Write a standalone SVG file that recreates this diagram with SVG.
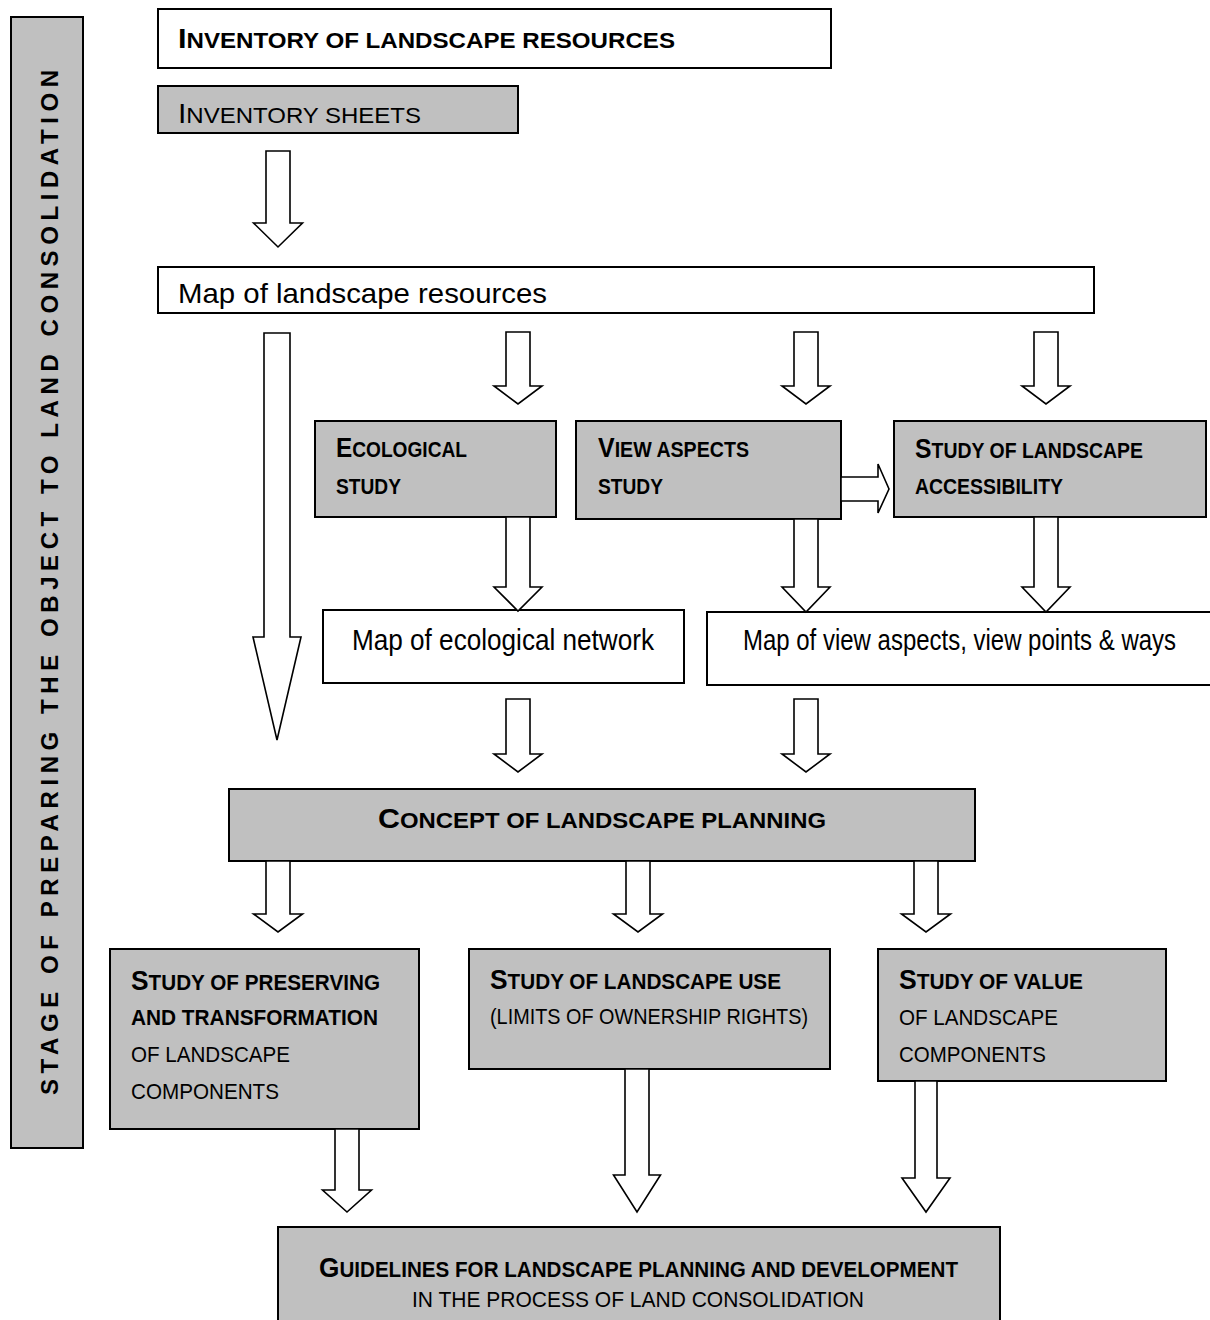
<svg xmlns="http://www.w3.org/2000/svg" width="1210" height="1320" viewBox="0 0 1210 1320">
<style>
.bw{fill:#ffffff;stroke:#000;stroke-width:2}
.bg{fill:#c0c0c0;stroke:#000;stroke-width:2}
.ar{fill:#ffffff;stroke:#000;stroke-width:1.6;stroke-linejoin:miter}
.t{font-family:"Liberation Sans Narrow","Liberation Sans",Arial,sans-serif;fill:#000}
.b{font-weight:bold}
.L{font-size:28px}
.S{font-size:22px}
.R{font-size:22.5px}
.v{font-family:"Liberation Sans",Arial,sans-serif;font-weight:bold;font-size:24px;fill:#000}
</style>
<defs>
<clipPath id="clipMap"><rect x="158" y="267" width="936" height="45"/></clipPath>
</defs>
<rect width="1210" height="1320" fill="#ffffff"/>

<g id="stage">
<rect class="bg" x="11" y="17" width="72" height="1131"/>
<text class="v" transform="translate(58,1095) rotate(-90)" textLength="1025" lengthAdjust="spacing">STAGE OF PREPARING THE OBJECT TO LAND CONSOLIDATION</text>
</g>

<g id="inventory">
<rect class="bw" x="158" y="9" width="673" height="59"/>
<text class="t b" x="178" y="48" textLength="497" lengthAdjust="spacingAndGlyphs"><tspan class="L">I</tspan><tspan class="S">NVENTORY OF LANDSCAPE RESOURCES</tspan></text>
</g>

<g id="sheets">
<rect class="bg" x="158" y="86" width="360" height="47"/>
<text class="t" x="178" y="122.5" textLength="243" lengthAdjust="spacingAndGlyphs"><tspan font-size="27">I</tspan><tspan font-size="21.5">NVENTORY SHEETS</tspan></text>
</g>

<g id="map-resources">
<rect class="bw" x="158" y="267" width="936" height="46"/>
<text class="t" x="178" y="303" font-size="28.5" textLength="369" lengthAdjust="spacingAndGlyphs" clip-path="url(#clipMap)">Map of landscape resources</text>
</g>

<g id="ecological">
<rect class="bg" x="315" y="421" width="241" height="96"/>
<text class="t b" x="336" y="457" textLength="131" lengthAdjust="spacingAndGlyphs"><tspan class="L">E</tspan><tspan class="S">COLOGICAL</tspan></text>
<text class="t b S" x="336" y="494" textLength="65" lengthAdjust="spacingAndGlyphs">STUDY</text>
</g>

<g id="view-aspects">
<rect class="bg" x="576" y="421" width="265" height="98"/>
<text class="t b" x="598" y="457" textLength="151" lengthAdjust="spacingAndGlyphs"><tspan class="L">V</tspan><tspan class="S">IEW ASPECTS</tspan></text>
<text class="t b S" x="598" y="494" textLength="65" lengthAdjust="spacingAndGlyphs">STUDY</text>
</g>

<g id="accessibility">
<rect class="bg" x="894" y="421" width="312" height="96"/>
<text class="t b" x="915" y="457.5" textLength="228" lengthAdjust="spacingAndGlyphs"><tspan class="L">S</tspan><tspan class="S">TUDY OF LANDSCAPE</tspan></text>
<text class="t b S" x="915" y="494" textLength="148" lengthAdjust="spacingAndGlyphs">ACCESSIBILITY</text>
</g>

<g id="map-ecological">
<rect class="bw" x="323" y="610" width="361" height="73"/>
<text class="t" x="352" y="650" font-size="30" textLength="302" lengthAdjust="spacingAndGlyphs">Map of ecological network</text>
</g>

<g id="map-view">
<rect x="707" y="612" width="503" height="73" fill="#ffffff"/>
<path d="M1210,612 H707 V685 H1210" fill="none" stroke="#000" stroke-width="2"/>
<text class="t" x="743" y="650" font-size="30" textLength="433" lengthAdjust="spacingAndGlyphs">Map of view aspects, view points &amp; ways</text>
</g>

<g id="concept">
<rect class="bg" x="229" y="789" width="746" height="72"/>
<text class="t b" x="378" y="828" textLength="448" lengthAdjust="spacingAndGlyphs"><tspan class="L">C</tspan><tspan class="S">ONCEPT OF LANDSCAPE PLANNING</tspan></text>
</g>

<g id="preserving">
<rect class="bg" x="110" y="949" width="309" height="180"/>
<text class="t b" x="131" y="990" textLength="249" lengthAdjust="spacingAndGlyphs"><tspan class="L">S</tspan><tspan class="S">TUDY OF PRESERVING</tspan></text>
<text class="t b S" x="131" y="1025" textLength="247" lengthAdjust="spacingAndGlyphs">AND TRANSFORMATION</text>
<text class="t R" x="131" y="1062" textLength="159" lengthAdjust="spacingAndGlyphs">OF LANDSCAPE</text>
<text class="t R" x="131" y="1099" textLength="148" lengthAdjust="spacingAndGlyphs">COMPONENTS</text>
</g>

<g id="landscape-use">
<rect class="bg" x="469" y="949" width="361" height="120"/>
<text class="t b" x="490" y="989" textLength="291" lengthAdjust="spacingAndGlyphs"><tspan class="L">S</tspan><tspan class="S">TUDY OF LANDSCAPE USE</tspan></text>
<text class="t R" x="490" y="1024" textLength="318" lengthAdjust="spacingAndGlyphs">(LIMITS OF OWNERSHIP RIGHTS)</text>
</g>

<g id="value">
<rect class="bg" x="878" y="949" width="288" height="132"/>
<text class="t b" x="899" y="989" textLength="184" lengthAdjust="spacingAndGlyphs"><tspan class="L">S</tspan><tspan class="S">TUDY OF VALUE</tspan></text>
<text class="t R" x="899" y="1025" textLength="159" lengthAdjust="spacingAndGlyphs">OF LANDSCAPE</text>
<text class="t R" x="899" y="1062" textLength="147" lengthAdjust="spacingAndGlyphs">COMPONENTS</text>
</g>

<g id="guidelines">
<rect class="bg" x="278" y="1227" width="722" height="100"/>
<text class="t b" x="319" y="1277" textLength="639" lengthAdjust="spacingAndGlyphs"><tspan class="L">G</tspan><tspan class="S">UIDELINES FOR LANDSCAPE PLANNING AND DEVELOPMENT</tspan></text>
<text class="t" x="412" y="1307" font-size="22" textLength="452" lengthAdjust="spacingAndGlyphs">IN THE PROCESS OF LAND CONSOLIDATION</text>
</g>

<g id="connectors">
<polygon class="ar" points="266,151 290,151 290,223 302.5,223 278,247 253.5,223 266,223"/>
<polygon class="ar" points="264,333 290,333 290,637 301,637 277,740 253,637 264,637"/>
<polygon class="ar" points="506,332 530,332 530,386 542,386 518,404 494,386 506,386"/>
<polygon class="ar" points="794,332 818,332 818,386 830,386 806,404 782,386 794,386"/>
<polygon class="ar" points="1034,332 1058,332 1058,386 1070,386 1046,404 1022,386 1034,386"/>
<polygon class="ar" points="841,477 878,477 878,464 889,489 878,513 878,501 841,501"/>
<polygon class="ar" points="506,517 530,517 530,587 542,587 518,611 494,587 506,587"/>
<polygon class="ar" points="794,519 818,519 818,587 830,587 806,612 782,587 794,587"/>
<polygon class="ar" points="1034,517 1058,517 1058,587 1070,587 1046,612 1022,587 1034,587"/>
<polygon class="ar" points="506,699 530,699 530,754 542,754 518,772 494,754 506,754"/>
<polygon class="ar" points="794,699 818,699 818,754 830,754 806,772 782,754 794,754"/>
<polygon class="ar" points="266,861 290,861 290,914 302.5,914 278,932 253.5,914 266,914"/>
<polygon class="ar" points="626,861 650,861 650,914 662.5,914 638,932 613.5,914 626,914"/>
<polygon class="ar" points="914,861 938,861 938,914 950.5,914 926,932 901.5,914 914,914"/>
<polygon class="ar" points="335,1129 359,1129 359,1190 371.5,1190 347,1212 322.5,1190 335,1190"/>
<polygon class="ar" points="625,1069 649,1069 649,1175 660.5,1175 637,1212 613.5,1175 625,1175"/>
<polygon class="ar" points="915,1081 937,1081 937,1178 950,1178 926,1212 902,1178 915,1178"/>
</g>
</svg>
